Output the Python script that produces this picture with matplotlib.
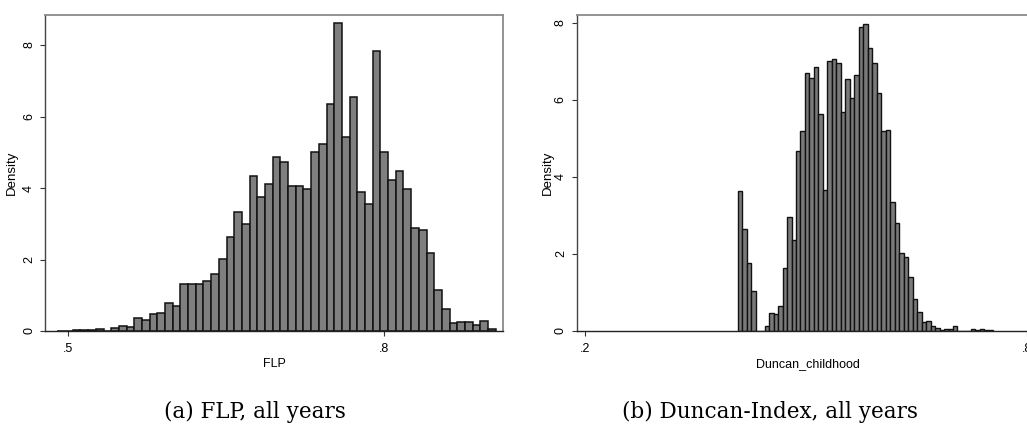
import matplotlib
matplotlib.use("Agg")
import matplotlib.pyplot as plt
import numpy as np

# ---------------- data ----------------
flp_bin_start = 0.4902
flp_bin_width = 0.007285
flp_density = [0.01, 0.01, 0.02, 0.02, 0.02, 0.06, 0.01, 0.09, 0.13, 0.10,
               0.35, 0.30, 0.47, 0.51, 0.78, 0.69, 1.32, 1.31, 1.31, 1.39,
               1.60, 2.02, 2.64, 3.32, 3.00, 4.34, 3.76, 4.11, 4.88, 4.72,
               4.05, 4.07, 3.96, 5.02, 5.24, 6.34, 8.61, 5.43, 6.56, 3.88,
               3.55, 7.84, 5.01, 4.22, 4.48, 3.97, 2.89, 2.82, 2.19, 1.14,
               0.61, 0.21, 0.24, 0.24, 0.16, 0.27, 0.05]

duncan_bin_start = 0.40678
duncan_bin_width = 0.006087
duncan_density = [3.62, 2.65, 1.76, 1.04, 0.0, 0.0,
                  0.12, 0.47, 0.43, 0.65, 1.63, 2.95, 2.35, 4.68, 5.19, 6.69,
                  6.57, 6.85, 5.62, 3.65, 7.00, 7.06, 6.95, 5.67, 6.53, 6.05,
                  6.64, 7.90, 7.96, 7.35, 6.95, 6.18, 5.19, 5.21, 3.34, 2.79,
                  2.02, 1.92, 1.41, 0.83, 0.50,
                  0.24, 0.25, 0.14, 0.09, 0.03, 0.04, 0.04, 0.14, 0.01, 0.01,
                  0.01, 0.04, 0.02, 0.04, 0.02, 0.02]

y_ticks = [0, 2, 4, 6, 8]
y_ticklabels = ["0", "2", "4", "6", "8"]
flp_xticks = [0.5, 0.8]
flp_xticklabels = [".5", ".8"]
duncan_xticks = [0.2, 0.8]
duncan_xticklabels = [".2", ".8"]

x_labels = ["FLP", "Duncan_childhood"]
captions = ["(a) FLP, all years", "(b) Duncan-Index, all years"]

# ---------------- figure ----------------
W, H = 1027, 426
fig = plt.figure(figsize=(W / 100, H / 100), dpi=100)
plt.rcParams['font.family'] = ['Liberation Sans', 'DejaVu Sans']


def px_axes(left, top, right, bottom):
    return fig.add_axes([left / W, 1 - bottom / H, (right - left) / W, (bottom - top) / H])


def style(ax, xlim, ylim, xticks, xticklabels, xlabel):
    ax.set_xlim(*xlim)
    ax.set_ylim(*ylim)
    ax.set_xticks(xticks)
    ax.set_xticklabels(xticklabels, fontsize=9)
    ax.set_yticks(y_ticks)
    ax.set_yticklabels(y_ticklabels, fontsize=9, rotation=90, va='center')
    ax.tick_params(axis='both', length=3.6, width=0.8, color='#333333')
    ax.tick_params(axis='x', pad=5)
    ax.tick_params(axis='y', pad=3.5)
    ax.set_ylabel("Density", fontsize=9.5, labelpad=4)
    ax.set_xlabel(xlabel, fontsize=9, labelpad=2.5)
    for s in ['top', 'right']:
        ax.spines[s].set_color('#8a8a8a')
        ax.spines[s].set_linewidth(1.3)
    ax.spines['left'].set_color('#444444')
    ax.spines['bottom'].set_color('#222222')
    ax.spines['left'].set_linewidth(1.0)
    ax.spines['bottom'].set_linewidth(1.0)


# left panel
ax1 = px_axes(45, 15, 503, 331)
edges1 = flp_bin_start + flp_bin_width * np.arange(len(flp_density))
ax1.bar(edges1, flp_density, width=flp_bin_width, align='edge',
        color='#7f7f7f', edgecolor='#111111', linewidth=1.1)
style(ax1, (0.4785, 0.9123), (0, 8.84), flp_xticks, flp_xticklabels, x_labels[0])

# right panel
ax2 = px_axes(576.7, 15, 1040, 331)
edges2 = duncan_bin_start + duncan_bin_width * np.arange(len(duncan_density))
ax2.bar(edges2, duncan_density, width=duncan_bin_width, align='edge',
        color='#7a7a7a', edgecolor='#111111', linewidth=1.0)
style(ax2, (0.18833, 0.8170), (0, 8.2), duncan_xticks, duncan_xticklabels, x_labels[1])
ax2.yaxis.labelpad = 1

# captions
fig.text(255 / W, 1 - 418 / H, captions[0], ha='center', va='baseline',
         fontsize=15.5, family=['DejaVu Serif'])
fig.text(770 / W, 1 - 418 / H, captions[1], ha='center', va='baseline',
         fontsize=15.5, family=['DejaVu Serif'])

fig.savefig("out.png", dpi=100)
